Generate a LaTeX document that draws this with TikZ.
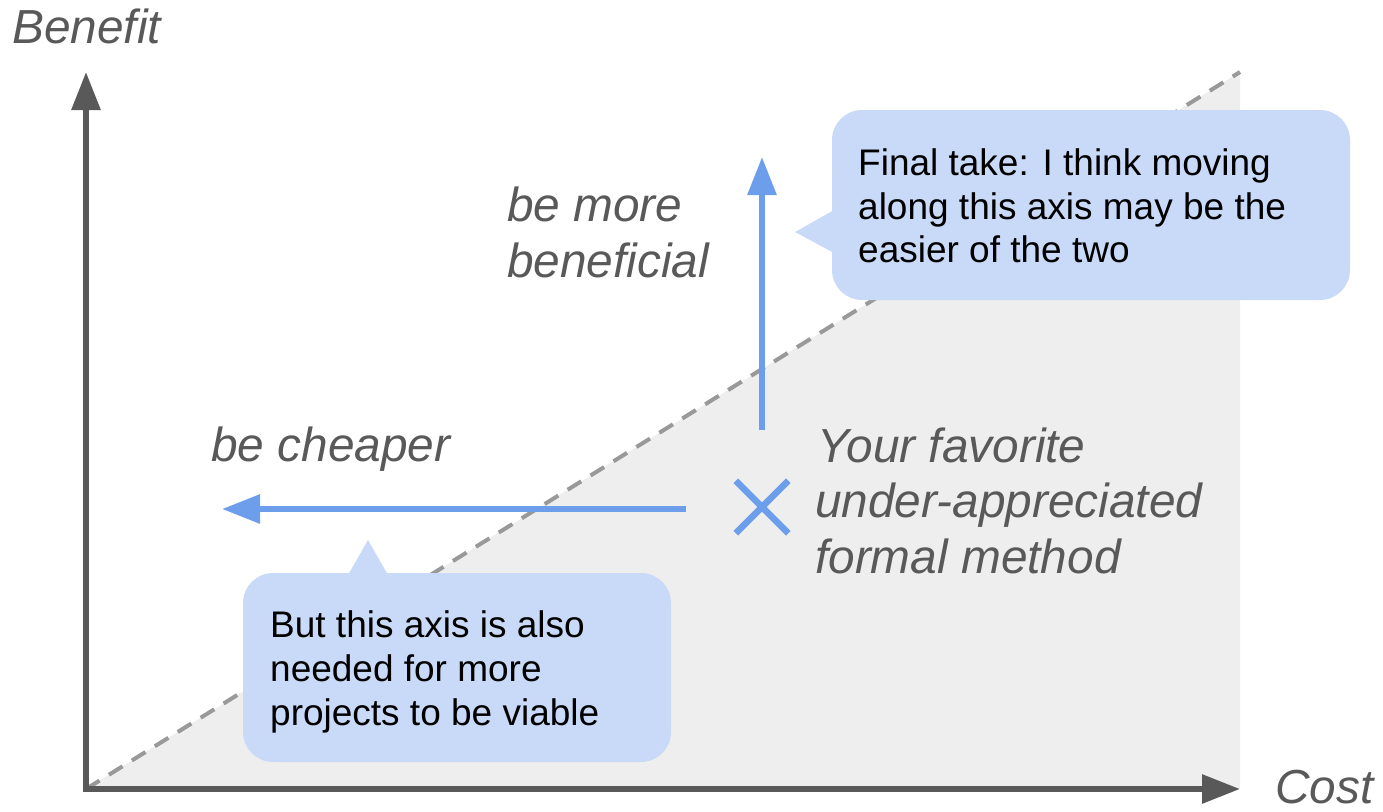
\documentclass[tikz,border=0pt]{standalone}
\usepackage{fontspec}
\setmainfont{Liberation Sans}
\usetikzlibrary{arrows.meta,shapes.misc}
\definecolor{axisgrey}{HTML}{595959}
\definecolor{zonegrey}{HTML}{EEEEEE}
\definecolor{dashgrey}{HTML}{999999}
\definecolor{moveblue}{HTML}{6D9EEB}
\definecolor{notefill}{HTML}{C9DAF8}

\begin{document}
\begin{tikzpicture}[x=1pt,y=-1pt,
  axis/.style={draw=axisgrey, line width=6pt, -{Triangle[length=38pt,width=28pt]}},
  move/.style={draw=moveblue, line width=6pt, -{Triangle[length=38pt,width=28pt]}},
  label/.style={font=\fontsize{47.8}{56}\selectfont\itshape, text=axisgrey, anchor=base west, inner sep=0pt},
  note/.style={font=\fontsize{37}{44}\selectfont, text=black, anchor=base west, inner sep=0pt},
  notebox/.style={fill=notefill, rounded corners=30pt, draw=none, inner sep=0pt},
]
\useasboundingbox (0,0) rectangle (1383,811);

% key points of the cost/benefit plane
\coordinate (O) at (86,789);
\coordinate (ybot) at (86,792);
\coordinate (ytop) at (86,72);
\coordinate (xbeg) at (83,789);
\coordinate (xend) at (1240,789);
\coordinate (corner) at (1240,72);

% region below the break-even line
\fill[zonegrey] (O) -- (corner) -- (xend) -- cycle;
\draw[dashgrey, line width=4pt, dash pattern=on 16pt off 11pt] (O) -- (corner);

% axes
\draw[axis] (ybot) -- (ytop);
\draw[axis] (xbeg) -- (xend);
\node[label] (benefit) at (12,43) {Benefit};
\node[label] (cost) at (1275,803) {Cost};

% callouts
\node[notebox, minimum width=518pt, minimum height=190pt] (take) at (1091,205) {};
\fill[notefill] (834,210) -- (795,232) -- (834,253) -- cycle;
\node[note] (take1) at (858,175) {Final take: I think moving};
\node[note] (take2) at (858,219) {along this axis may be the};
\node[note] (take3) at (858,262) {easier of the two};

\node[notebox, minimum width=428pt, minimum height=189pt] (also) at (457,667.5) {};
\fill[notefill] (348,575) -- (368,540) -- (388,575) -- cycle;
\node[note] (also1) at (270,637) {But this axis is also};
\node[note] (also2) at (270,681) {needed for more};
\node[note] (also3) at (270,725) {projects to be viable};

% the method and the two directions of improvement
\node[cross out, draw=moveblue, line width=6.5pt, minimum size=46pt, inner sep=0pt] (mark) at (762,507) {};
\coordinate (upbeg) at (762,430);
\coordinate (uptip) at (762,157);
\coordinate (leftbeg) at (686,509);
\coordinate (lefttip) at (222,509);
\draw[move] (upbeg) -- (uptip);
\draw[move] (leftbeg) -- (lefttip);

\node[label] (more1) at (507,221) {be more};
\node[label] (more2) at (507,277) {beneficial};
\node[label] (cheaper) at (211,461) {be cheaper};
\node[label] (fav1) at (817,462) {Your favorite};
\node[label] (fav2) at (815,517) {under-appreciated};
\node[label] (fav3) at (815,573) {formal method};
\end{tikzpicture}
\end{document}
